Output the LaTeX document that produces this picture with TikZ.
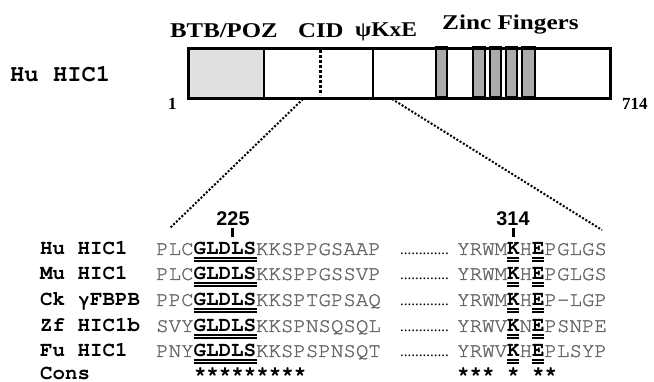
\documentclass[tikz,border=0pt]{standalone}
\usepackage{fontspec}
\setmainfont{Liberation Serif}
\newfontfamily\monof{TeX Gyre Cursor}
\newfontfamily\monoseq[FakeBold=1.3]{TeX Gyre Cursor}
\newfontfamily\sansf{Liberation Sans}
\begin{document}
\begin{tikzpicture}[x=1pt,y=-1pt,
  hdr/.style={font=\bfseries\fontsize{21}{21}\selectfont, inner sep=0pt, anchor=base west},
  endnum/.style={font=\bfseries\fontsize{17}{17}\selectfont, inner sep=0pt, anchor=base west},
  rowlab/.style={font=\monof\bfseries\fontsize{20.8}{20.8}\selectfont, inner sep=0pt, anchor=base west},
  seq/.style={font=\monoseq\fontsize{20.8}{20.8}\selectfont, text=black!60, inner sep=0pt, anchor=base west},
  posnum/.style={font=\sansf\bfseries\fontsize{19.8}{19.8}\selectfont, inner sep=0pt, anchor=base},
  gapdots/.style={font=\fontsize{15}{15}\selectfont, inner sep=0pt, anchor=base west},
  cons/.style={font=\monof\bfseries\fontsize{20.8}{20.8}\selectfont, inner sep=0pt, anchor=base west},
  zf/.style={fill=black!33, draw=black, line width=1.1pt},
  uline/.style={line width=1.4pt},
  tick/.style={line width=3pt},
  zoomline/.style={line width=2pt, dash pattern=on 2pt off 1.8pt}
]
\useasboundingbox (0,0) rectangle (654,382);
% protein bar
\fill[black!12] (187,47) rectangle (264,97);
\draw[line width=1.2pt] (264,47) -- (264,97);
\foreach \a/\b in {436/447, 473/485, 490/501, 506/517, 522/535}
  \draw[zf] (\a,47) rectangle (\b,97);
\draw[line width=3pt, dash pattern=on 3pt off 2pt] (320,50) -- (320,95);
\draw[line width=2.6pt] (373,47) -- (373,97);
\node[draw, line width=3pt, minimum width=422pt, minimum height=50pt, inner sep=0pt, anchor=north west] (bar) at (187,47) {};
% headers
\node[hdr] (btb) at (170,38) {\scalebox{1.18}[1]{BTB/POZ}};
\node[hdr] (cid) at (298,38) {\scalebox{1.18}[1]{CID}};
\node[hdr] (psi) at (355,37) {\scalebox{1.12}[1]{ψKxE}};
\node[hdr] (zinc) at (442,30) {\scalebox{1.2}[1]{Zinc Fingers}};
\node[font=\monof\bfseries\fontsize{23.8}{23.8}\selectfont, inner sep=0pt, anchor=base west] (hu) at (10,82) {Hu HIC1};
\node[endnum] (n1) at (168,110) {1};
\node[endnum] (n714) at (622,110) {714};
% zoom lines
\coordinate (zl1) at (303,99);
\coordinate (zl2) at (170,228);
\coordinate (zr1) at (392,99);
\coordinate (zr2) at (602,230);
\draw[zoomline] (zl1) -- (zl2);
\draw[zoomline] (zr1) -- (zr2);
% position numbers
\node[posnum] (p225) at (233,226) {225};
\node[posnum] (p314) at (513,226) {314};
\coordinate (t1a) at (232,228); \coordinate (t1b) at (232,237);
\coordinate (t2a) at (513,228); \coordinate (t2b) at (513,237);
\draw[tick] (t1a) -- (t1b);
\draw[tick] (t2a) -- (t2b);
% alignment rows
\foreach \y/\lab/\sa/\sb/\da/\db/\dc [count=\i] in {
  255/Hu HIC1/PLC/KKSPPGSAAP/YRWM/H/PGLGS,
  280/Mu HIC1/PLC/KKSPPGSSVP/YRWM/H/PGLGS,
  306/Ck γFBPB/PPC/KKSPTGPSAQ/YRWM/H/P-LGP,
  332/Zf HIC1b/SVY/KKSPNSQSQL/YRWV/N/PSNPE,
  357/Fu HIC1/PNY/KKSPSPNSQT/YRWV/H/PLSYP} {
  \node[rowlab] (lab\i) at (40,\y) {\lab};
  \node[seq] (sa\i) at (156,\y) {\sa\textcolor{black}{\monof\bfseries GLDLS}\sb};
  \node[gapdots] (dots\i) at (400,\y) {.............};
  \node[seq] (sb\i) at (457,\y) {\da\textcolor{black}{\monof\bfseries K}\db\textcolor{black}{\monof\bfseries E}\dc};
  \draw[uline] (193.8,\y+3) -- (256.6,\y+3) (193.8,\y+6) -- (256.6,\y+6);
  \draw[uline] (507,\y+3) -- (518.5,\y+3) (507,\y+6.2) -- (518.5,\y+6.2);
  \draw[uline] (532,\y+3) -- (543.5,\y+3) (532,\y+6.2) -- (543.5,\y+6.2);
}
\node[rowlab] (labc) at (40,379) {Cons};
\node[cons] (ca) at (193.8,380.5) {*********};
\node[cons] (cb) at (457,380.5) {*** * **};
\end{tikzpicture}
\end{document}
